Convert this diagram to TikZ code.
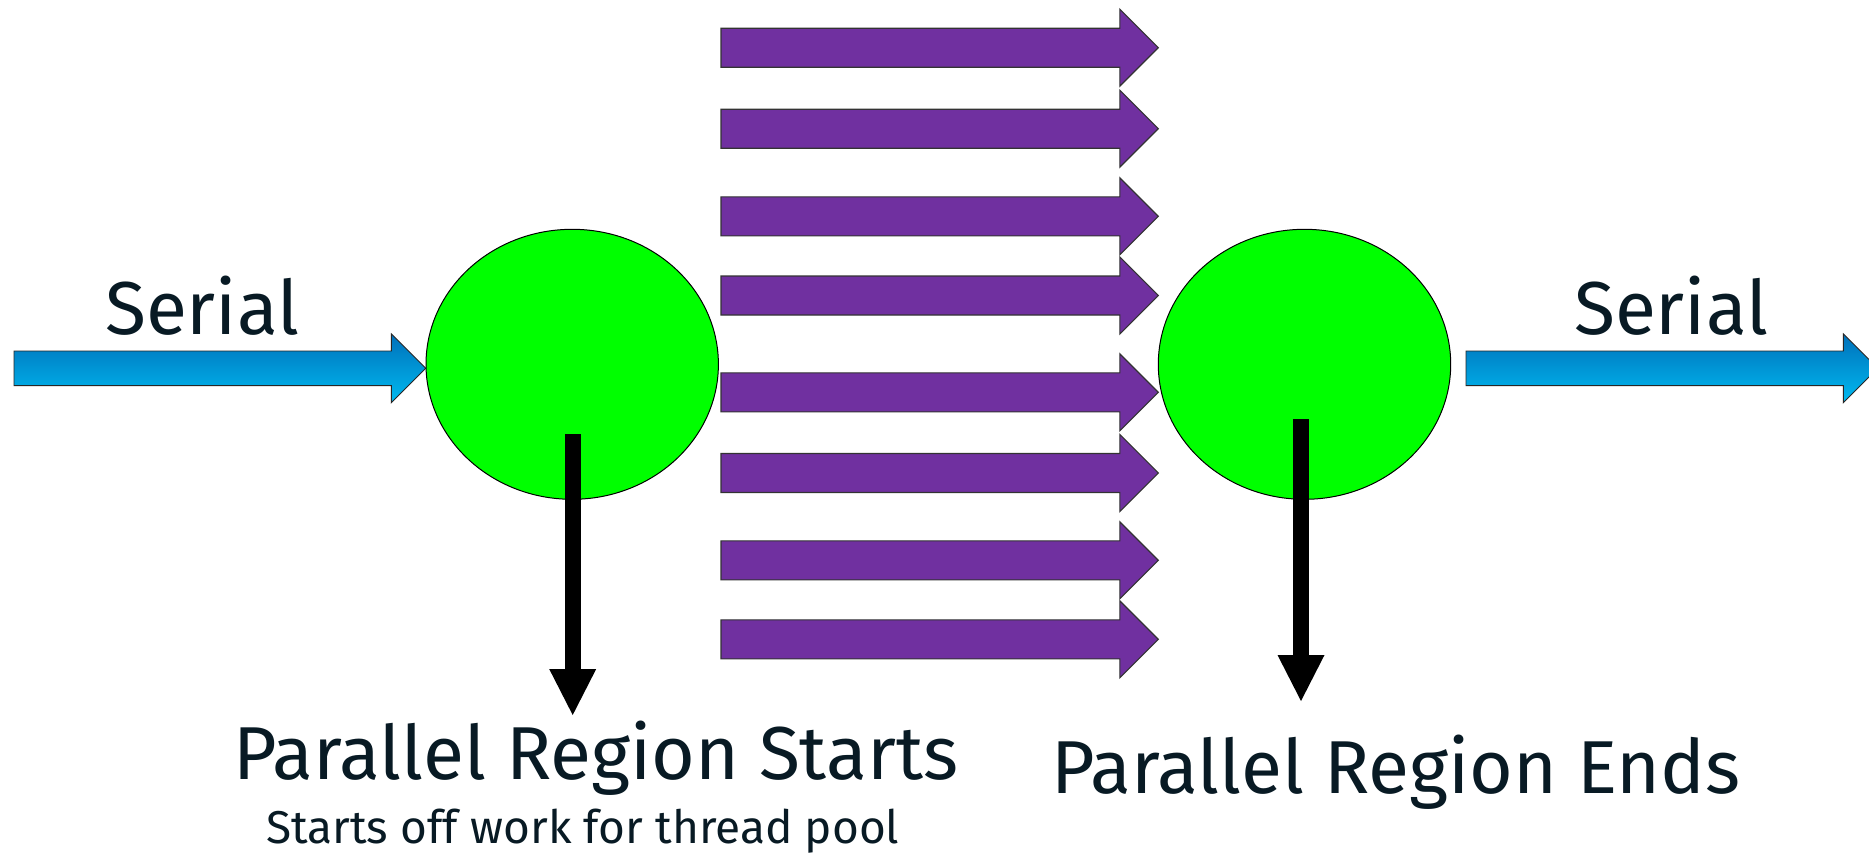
\documentclass[tikz,border=0pt]{standalone}
\usepackage{fontspec}
\setmainfont{Fira Sans}
\usetikzlibrary{arrows.meta,shapes.geometric}

\definecolor{serialtop}{RGB}{0,112,186}
\definecolor{serialbot}{RGB}{0,186,240}
\definecolor{work}{RGB}{112,48,160}
\definecolor{region}{RGB}{0,255,0}
\definecolor{ink}{RGB}{8,26,36}

% block arrow pointing right: style, tail x, tip x, centre y, body half-height, head half-height
\newcommand{\blockarrow}[6]{%
  \path[#1] (#2,#4-#5) -- (#3-#6,#4-#5) -- (#3-#6,#4-#6) -- (#3,#4)
    -- (#3-#6,#4+#6) -- (#3-#6,#4+#5) -- (#2,#4+#5) -- cycle;}

\begin{document}
\begin{tikzpicture}[x=1pt,y=-1pt,
  regionnode/.style={ellipse, draw=black, line width=1pt, fill=region,
    minimum width=292.4pt, minimum height=270pt, inner sep=0pt},
  serialarrow/.style={draw=black!85, line width=0.9pt,
    top color=serialtop, bottom color=serialbot},
  workarrow/.style={draw=black!80, line width=1.1pt, fill=work},
  marker/.style={line width=15.6pt, black,
    -{Triangle[width=47pt,length=46pt,line width=0pt]}},
  label/.style={anchor=base west, inner sep=0pt, text=ink},
  bigtext/.style={label, font=\fontsize{75}{90}\selectfont},
  smalltext/.style={label, font=\fontsize{46}{55}\selectfont}]

\clip (0,0) rectangle (1869,852);
\fill[white] (0,0) rectangle (1869,852);

% serial parts before and after the parallel region
\blockarrow{serialarrow}{14}{425.7}{368.3}{17.3}{34.4}
\blockarrow{serialarrow}{1466}{1877.7}{368.3}{17.3}{34.4}
\node[bigtext] (serialin) at (105,334) {Serial};
\node[bigtext] (serialout) at (1574,334) {Serial};

% fork and join points
\node[regionnode] (fork) at (572.2,364.3) {};
\node[regionnode] (join) at (1304.5,364.3) {};

% work handed to the thread pool
\foreach \yc in {47.7,128.7,216.3,295.5,392.3,473,560.3,639.3}
  \blockarrow{workarrow}{721}{1158.3}{\yc}{19.5}{38.5};

% labels
\node[bigtext] (startlabel) at (233,779.3) {Parallel Region Starts};
\node[smalltext] (startnote) at (266,843) {Starts off work for thread pool};
\node[bigtext] (endlabel) at (1051,793) {Parallel Region Ends};

% markers from the fork and join points to their labels
\coordinate (forksrc) at (572.7,434.3);
\coordinate (forkdst) at (572.7,715);
\coordinate (joinsrc) at (1301,419.3);
\coordinate (joindst) at (1301,701);
\draw[marker] (forksrc) -- (forkdst);
\draw[marker] (joinsrc) -- (joindst);
\end{tikzpicture}
\end{document}
